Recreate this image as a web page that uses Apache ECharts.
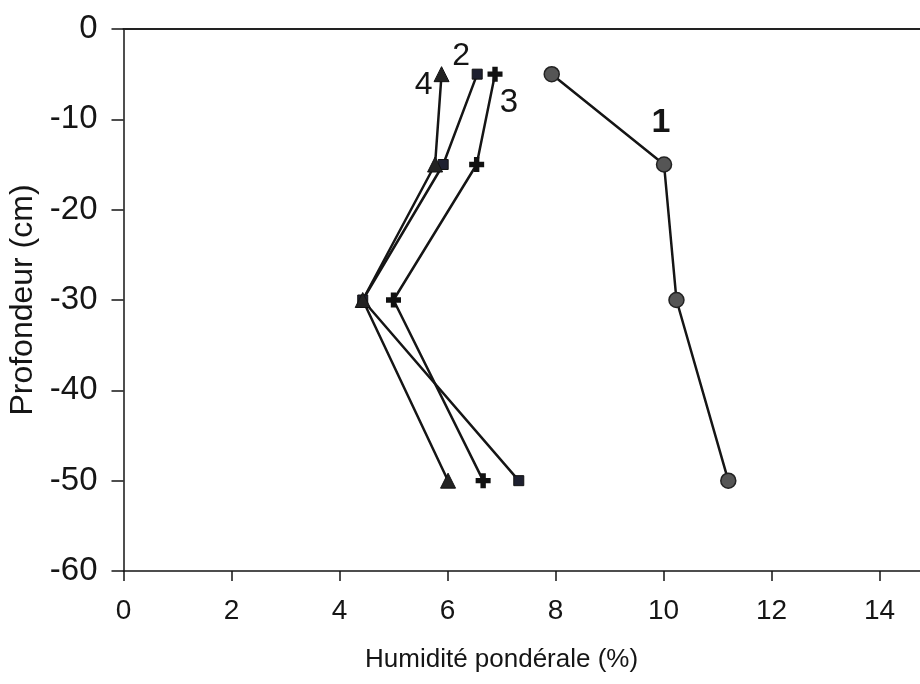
<!DOCTYPE html>
<html>
<head>
<meta charset="utf-8">
<script src="https://cdn.jsdelivr.net/npm/echarts@6/dist/echarts.min.js"></script>
<style>
html,body{margin:0;padding:0;background:#fff;}
#chart{width:920px;height:684px;}
</style>
</head>
<body>
<div id="chart"></div>
<script>
// ---- data ----
var depths = [-5, -15, -30, -50];
var seriesNames = ['1', '2', '3', '4'];
var humidity1 = [7.93, 10.01, 10.24, 11.2];
var humidity2 = [6.55, 5.92, 4.43, 7.32];
var humidity3 = [6.88, 6.54, 5.0, 6.66];
var humidity4 = [5.89, 5.77, 4.43, 6.01];
var xTicks = [0, 2, 4, 6, 8, 10, 12, 14];
var yTicks = [0, -10, -20, -30, -40, -50, -60];
var xTitle = 'Humidité pondérale (%)';
var yTitle = 'Profondeur (cm)';

var INK = '#151515';
var FONT = "'Liberation Sans', Arial, Helvetica, sans-serif";

function build(xs, labelIdx, labelText, labelOffset, bold, size) {
  return xs.map(function (x, i) {
    var item = { value: [x, depths[i]] };
    if (i === labelIdx) {
      item.label = {
        show: true, formatter: labelText, position: 'inside',
        offset: labelOffset, fontSize: size, color: INK,
        fontFamily: FONT, fontWeight: bold ? 'bold' : 'normal'
      };
    }
    return item;
  });
}

var plusPath = 'path://M3.2,0H6.8V3.2H10V6.8H6.8V10H3.2V6.8H0V3.2H3.2Z';

var chart = echarts.init(document.getElementById('chart'), null, { renderer: 'canvas' });
chart.setOption({
  animation: false,
  backgroundColor: '#fff',
  grid: { left: 123.5, top: 29, right: -13.5, bottom: 113, containLabel: false, outerBoundsMode: 'none' },
  xAxis: [{
    type: 'value', min: 0, max: 15, interval: 2, position: 'bottom',
    axisLine: { show: true, onZero: false, lineStyle: { color: INK, width: 1.5 } },
    axisTick: { show: true, length: 10, inside: false, lineStyle: { color: INK, width: 1.5 } },
    axisLabel: {
      show: true, fontSize: 28, color: INK, fontFamily: FONT, margin: 26,
      showMaxLabel: false,
      formatter: function (v) { return xTicks.indexOf(v) >= 0 ? String(v) : ''; }
    },
    splitLine: { show: false }
  }, {
    type: 'value', min: 0, max: 15, position: 'top',
    axisLine: { show: true, onZero: false, lineStyle: { color: '#222', width: 2 } },
    axisTick: { show: false }, axisLabel: { show: false }, splitLine: { show: false }
  }],
  yAxis: {
    type: 'value', min: -60, max: 0, interval: 10,
    name: yTitle, nameLocation: 'middle', nameGap: 80, nameRotate: 90,
    nameTextStyle: { fontSize: 32, color: INK, fontFamily: FONT },
    axisLine: { show: true, onZero: false, lineStyle: { color: INK, width: 1.5 } },
    axisTick: { show: true, length: 12, inside: false, lineStyle: { color: INK, width: 1.5 } },
    axisLabel: {
      fontSize: 33, color: INK, fontFamily: FONT, margin: 26,
      formatter: function (v) { return yTicks.indexOf(v) >= 0 ? String(v) : ''; }
    },
    splitLine: { show: false }
  },
  graphic: [{
    type: 'text', left: 365, top: 647,
    style: { text: xTitle, fontSize: 26, fill: INK, fontFamily: FONT }
  }],
  series: [{
    name: seriesNames[0], type: 'line', data: build(humidity1, 1, '1', [-3, -42], true, 34),
    symbol: 'circle', symbolSize: 15,
    itemStyle: { color: '#555', borderColor: '#222', borderWidth: 1.5 },
    lineStyle: { color: INK, width: 2.5 }, z: 3
  }, {
    name: seriesNames[1], type: 'line', data: build(humidity2, 0, '2', [-16, -18], false, 32),
    symbol: 'rect', symbolSize: 10,
    itemStyle: { color: '#1e2030', borderColor: '#111', borderWidth: 1 },
    lineStyle: { color: INK, width: 2.5 }, z: 3
  }, {
    name: seriesNames[2], type: 'line', data: build(humidity3, 0, '3', [14, 29], false, 33),
    symbol: plusPath, symbolSize: 15,
    itemStyle: { color: '#111', borderWidth: 0 },
    lineStyle: { color: INK, width: 2.5 }, z: 3
  }, {
    name: seriesNames[3], type: 'line', data: build(humidity4, 0, '4', [-18, 11], false, 32),
    symbol: 'triangle', symbolSize: 15,
    itemStyle: { color: '#222', borderColor: '#111', borderWidth: 1 },
    lineStyle: { color: INK, width: 2.5 }, z: 3
  }]
});
</script>
</body>
</html>
